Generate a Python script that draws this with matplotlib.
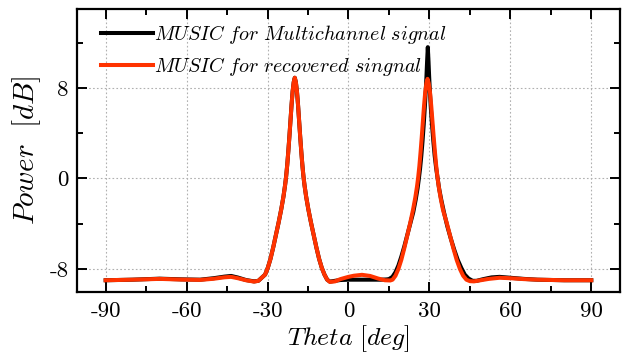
import matplotlib
matplotlib.use("Agg")
import matplotlib.pyplot as plt
from matplotlib.ticker import MultipleLocator, FixedLocator

plt.rcParams["mathtext.fontset"] = "cm"
plt.rcParams["axes.unicode_minus"] = False

# MUSIC pseudo-spectrum, multichannel signal (angle in degrees, power in dB)
theta_multi = [-90, -80, -70, -62, -55, -50, -46, -43.5, -41, -38, -35, -33.4,
               -30.9, -29.9, -28.9, -27.9, -26.9, -25.9, -24.9, -24.1, -23.5, -23.1,
               -22.7, -22.3, -21.9, -21.5, -21.1, -20.7, -20.3, -19.9, -19.5, -19.1,
               -18.7, -18.3, -17.9, -17.5, -17.1, -16.7, -16.3, -15.7, -14.9, -13.9,
               -12.9, -11.9, -10.9, -9.9, -8.9, -7.9, -6.9, -5, -3, 0, 3, 6, 9, 12, 14,
               15.0, 16.3, 17.4, 18.5, 19.6, 20.7, 21.8, 22.9, 24.0, 24.9, 25.6, 26.1,
               26.55, 27.0, 27.45, 27.9, 28.3, 28.65, 28.9, 29.15, 29.4, 29.65, 29.9,
               30.15, 30.5, 30.95, 31.45, 31.95, 32.5, 33.05, 33.6, 34.4, 35.4, 36.6,
               37.9, 39.2, 40.5, 41.8, 43.1, 44.5, 46, 47.5, 50, 53, 56, 60, 65, 70,
               80, 90]
power_multi = [-9.0, -8.95, -8.86, -8.92, -8.95, -8.82, -8.68, -8.62, -8.76, -8.98,
               -9.1, -9.05, -8.5, -7.9, -7.1, -6.1, -5.0, -3.9, -2.7, -1.6, -0.6, 0.2,
               1.2, 2.4, 3.7, 5.1, 6.5, 7.7, 8.5, 8.9, 8.5, 7.7, 6.5, 5.1, 3.7, 2.4,
               1.2, 0.2, -0.6, -1.6, -2.7, -3.9, -5.0, -6.1, -7.1, -7.9, -8.5, -8.95,
               -9.12, -9.05, -8.98, -8.95, -8.95, -8.95, -8.95, -8.95, -8.93, -8.9,
               -8.7, -8.3, -7.7, -6.9, -6.0, -5.0, -4.0, -3.0, -1.9, -0.9, 0.0, 0.9,
               2.0, 3.3, 4.8, 6.3, 7.8, 9.0, 10.4, 11.6, 10.4, 9.0, 7.8, 6.3, 4.8, 3.3,
               2.0, 0.9, 0.0, -0.9, -1.9, -3.0, -4.2, -5.3, -6.3, -7.2, -7.9, -8.5,
               -8.85, -9.05, -9.05, -8.9, -8.75, -8.7, -8.78, -8.88, -8.95, -9.0, -9.0]

# MUSIC pseudo-spectrum, recovered signal
theta_rec = [-90, -80, -70, -62, -55, -50, -46, -43.5, -41, -38, -35, -33.4, -30.9,
             -29.9, -28.9, -27.9, -26.9, -25.9, -24.9, -24.1, -23.5, -23.1, -22.7,
             -22.3, -21.9, -21.5, -21.1, -20.7, -20.3, -19.9, -19.5, -19.1, -18.7,
             -18.3, -17.9, -17.5, -17.1, -16.7, -16.3, -15.7, -14.9, -13.9, -12.9,
             -11.9, -10.9, -9.9, -8.9, -7.9, -6.9, -5, -3, 0, 2, 5, 8, 11, 13.5, 15.5,
             16.34, 17.42, 18.5, 19.58, 20.66, 21.74, 22.82, 23.9, 24.76, 25.41, 25.84,
             26.28, 26.71, 27.14, 27.57, 28.0, 28.44, 28.87, 29.3, 29.76, 30.22, 30.68,
             31.14, 31.6, 32.06, 32.52, 32.98, 33.44, 34.13, 35.05, 36.5, 37.7, 38.9,
             40.1, 41.3, 42.5, 43.7, 45, 46.5, 49, 52, 56, 60, 65, 70, 80, 90]
power_rec = [-9.0, -8.95, -8.88, -8.94, -8.97, -8.87, -8.74, -8.7, -8.82, -9.0, -9.12,
             -9.05, -8.5, -7.9, -7.1, -6.1, -5.0, -3.9, -2.7, -1.6, -0.6, 0.2, 1.2,
             2.4, 3.7, 5.1, 6.5, 7.7, 8.5, 8.9, 8.5, 7.7, 6.5, 5.1, 3.7, 2.4, 1.2,
             0.2, -0.6, -1.6, -2.7, -3.9, -5.0, -6.1, -7.1, -7.9, -8.5, -8.95, -9.15,
             -9.1, -8.9, -8.7, -8.6, -8.52, -8.62, -8.85, -9.0, -9.02, -8.95, -8.6,
             -8.0, -7.2, -6.2, -5.1, -4.0, -2.8, -1.7, -0.7, 0.1, 1.1, 2.3, 3.6, 5.0,
             6.4, 7.6, 8.4, 8.8, 8.4, 7.6, 6.4, 5.0, 3.6, 2.3, 1.1, 0.1, -0.7, -1.7,
             -2.8, -4.0, -5.1, -6.2, -7.2, -8.0, -8.6, -8.95, -9.08, -9.1, -9.0, -8.88,
             -8.78, -8.82, -8.9, -8.95, -9.0, -9.0]

labels = [r"$MUSIC\ for\ Multichannel\ signal$", r"$MUSIC\ for\ recovered\ singnal$"]
colors = ["#000000", "#ff3300"]
x_ticks = [-90, -60, -30, 0, 30, 60, 90]
y_ticks = [-8, 0, 8]

fig = plt.figure(figsize=(6.4, 3.56), dpi=100)
ax = fig.add_axes([0.120, 0.181, 0.849, 0.793])

ax.plot(theta_multi, power_multi, color=colors[0], lw=2.9, label=labels[0],
        solid_joinstyle="round")
ax.plot(theta_rec, power_rec, color=colors[1], lw=2.9, label=labels[1],
        solid_joinstyle="round")

ax.set_xlim(-100.7, 100.7)
ax.set_ylim(-10.0, 14.95)
ax.xaxis.set_major_locator(FixedLocator(x_ticks))
ax.xaxis.set_minor_locator(MultipleLocator(15))
ax.yaxis.set_major_locator(FixedLocator(y_ticks))
ax.yaxis.set_minor_locator(MultipleLocator(4))

ax.grid(True, which="major", color="#b0b0b0", linestyle=(0, (1.5, 2)), lw=0.8)
ax.tick_params(which="both", direction="in", top=True, right=True, width=1.4,
               labelsize=16.5)
ax.tick_params(axis="x", pad=7)
ax.tick_params(axis="y", pad=6)
ax.tick_params(which="major", length=7)
ax.tick_params(which="minor", length=4)
for lab in ax.get_xticklabels() + ax.get_yticklabels():
    lab.set_family("cmr10")
for s in ax.spines.values():
    s.set_linewidth(1.6)

ax.set_xlabel(r"$Theta\ [deg]$", fontsize=18.5)
ax.set_ylabel(r"$Power\ \ [dB]$", fontsize=21)
ax.xaxis.set_label_coords(0.5, -0.112)
ax.yaxis.set_label_coords(-0.063, 0.5)

ax.legend(loc="upper left", bbox_to_anchor=(0.018, 1.0), frameon=False,
          fontsize=14.5, handlelength=2.6, handletextpad=0.05, labelspacing=0.45,
          borderaxespad=0.3)

fig.savefig("out.png", dpi=100)
